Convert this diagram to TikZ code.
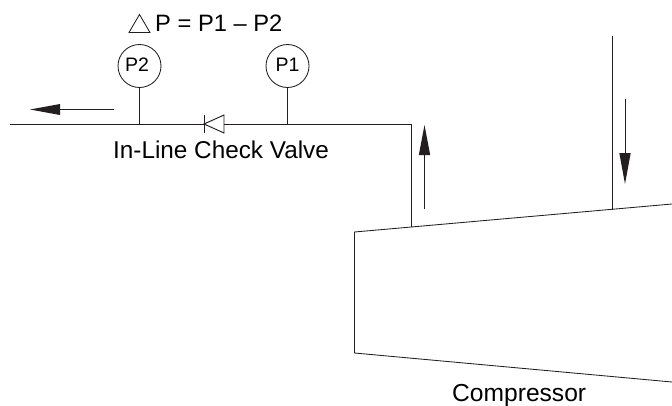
\documentclass[tikz,border=0pt]{standalone}
\usepackage{fontspec}
\setmainfont{Liberation Sans}
\definecolor{ink}{HTML}{231F20}
\tikzset{
  pipe/.style={draw=ink,line width=0.95pt,line join=miter},
  thinline/.style={draw=ink,line width=0.85pt},
  flow/.style={draw=ink,line width=0.95pt},
  head/.style={fill=ink,draw=none},
  gauge/.style={circle,draw=ink,line width=0.85pt,minimum size=43pt,inner sep=0pt,font=\fontsize{19.5pt}{21pt}\selectfont,text=black},
  lab/.style={inner sep=0pt,anchor=base west,font=\fontsize{24.3pt}{26pt}\selectfont,text=black}
}
\begin{document}
\begin{tikzpicture}[x=1pt,y=-1pt]
\useasboundingbox (0,0) rectangle (672,405);
\fill[white] (0,0) rectangle (672,405);
% compressor
\coordinate (ctr) at (672,204);
\coordinate (ctl) at (354.5,232);
\coordinate (cbl) at (354.5,353);
\coordinate (cbr) at (672,382);
\draw[thinline] (ctr) -- (ctl) -- (cbl) -- (cbr);
% discharge pipe
\coordinate (pipeL) at (10,124);
\coordinate (pipeC) at (411.5,124);
\coordinate (pipeB) at (411.5,227);
\draw[pipe] (pipeL) -- (pipeC) -- (pipeB);
% suction pipe
\coordinate (sucT) at (612.5,36);
\coordinate (sucB) at (612.5,209.5);
\draw[pipe] (sucT) -- (sucB);
% gauges
\node[gauge] (p2) at (139.5,66) {\hspace*{-5pt}\raisebox{2pt}{P2}};
\node[gauge] (p1) at (287.5,66) {\raisebox{2pt}{P1}};
\coordinate (t2) at (139.5,124);
\coordinate (t1) at (287.5,124);
\draw[pipe] (p2) -- (t2);
\draw[pipe] (p1) -- (t1);
% check valve
\fill[white] (204,115) rectangle (224,133);
\draw[pipe] (204,115) -- (204,133);
\draw[pipe] (224,115) -- (204,124) -- (224,133) -- cycle;
% flow arrows
\draw[flow] (114,109.5) -- (58,109.5);
\fill[head] (30,109.5) -- (60,104) -- (60,115) -- cycle;
\draw[flow] (424.5,209) -- (424.5,153);
\fill[head] (424.5,125) -- (430.2,155) -- (418.8,155) -- cycle;
\draw[flow] (625,99) -- (625,155);
\fill[head] (625,184) -- (630.7,153) -- (619.3,153) -- cycle;
% labels
\draw[thinline] (129,32.5) -- (150,32.5) -- (139.5,14.5) -- cycle;
\node[lab,font=\fontsize{23.7pt}{26pt}\selectfont] (dp) at (155,31) {P = P1 – P2};
\node[lab] (clv) at (113,158) {In-Line Check Valve};
\node[lab,font=\fontsize{24.6pt}{26pt}\selectfont] (comp) at (452,401) {Compressor};
\end{tikzpicture}
\end{document}
